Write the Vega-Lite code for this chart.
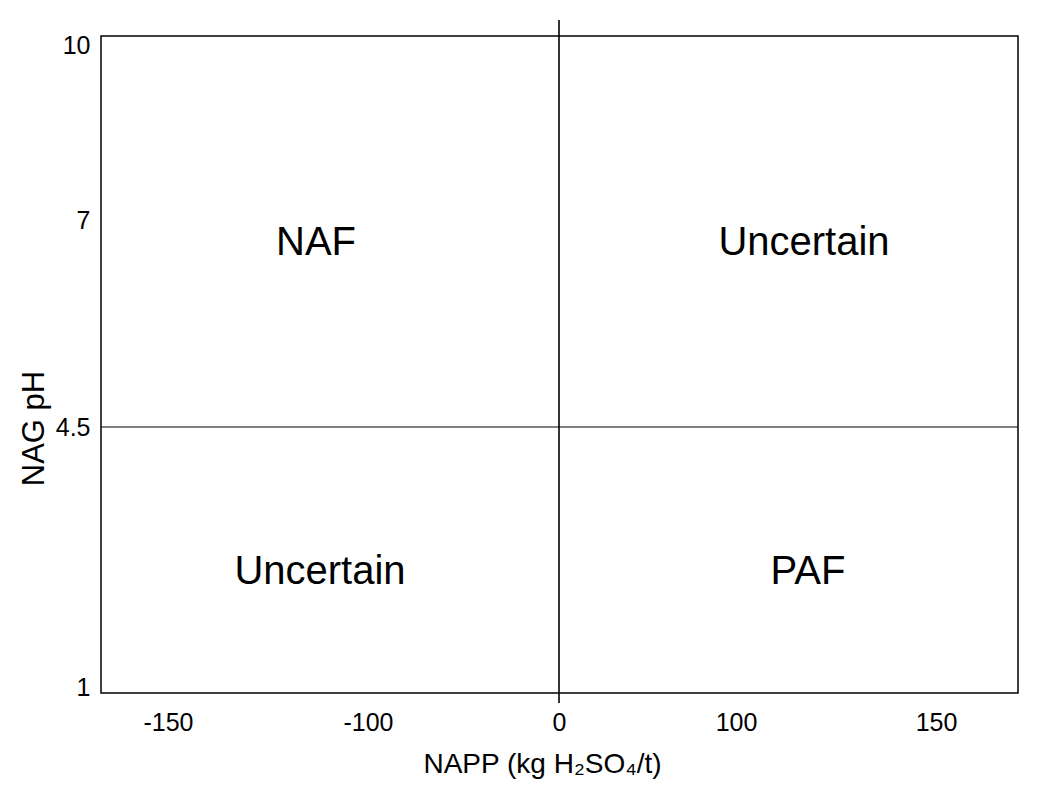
{
  "$schema": "https://vega.github.io/schema/vega-lite/v6.json",
  "width": 917,
  "height": 657,
  "autosize": {"type": "none"},
  "padding": {"left": 101, "top": 36, "right": 32, "bottom": 93},
  "background": "white",
  "config": {
    "view": {"stroke": "#000", "strokeWidth": 1.5},
    "font": "Liberation Sans"
  },
  "datasets": {
    "quadrants": [
      {"napp": -113, "ph": 6.72, "label": "NAF"},
      {"napp": 117, "ph": 6.72, "label": "Uncertain"},
      {"napp": -112, "ph": 2.55, "label": "Uncertain"},
      {"napp": 118, "ph": 2.55, "label": "PAF"}
    ],
    "ph_divider": [{"ph": 4.5}],
    "napp_divider": [{"napp": 0, "ph_low": 0.785, "ph_high": 10.43}]
  },
  "layer": [
    {
      "data": {"name": "ph_divider"},
      "mark": {"type": "rule", "color": "#000", "strokeWidth": 1.2},
      "encoding": {
        "y": {
          "field": "ph", "type": "quantitative",
          "scale": {"type": "linear", "domain": [1, 4.5, 7, 10], "range": [651, 391, 184, 9], "zero": false, "nice": false}
        }
      }
    },
    {
      "data": {"name": "napp_divider"},
      "mark": {"type": "rule", "color": "#000", "strokeWidth": 1.6, "clip": false},
      "encoding": {
        "x": {
          "field": "napp", "type": "quantitative",
          "scale": {"type": "linear", "domain": [-150, -100, 0, 100, 150], "range": [67, 267, 458, 635, 835], "zero": false, "nice": false}
        },
        "y": {
          "field": "ph_low", "type": "quantitative",
          "scale": {"type": "linear", "domain": [1, 4.5, 7, 10], "range": [651, 391, 184, 9], "zero": false, "nice": false}
        },
        "y2": {"field": "ph_high"}
      }
    },
    {
      "data": {"name": "quadrants"},
      "mark": {"type": "text", "fontSize": 40, "align": "center", "baseline": "middle", "color": "#000", "font": "Liberation Sans"},
      "encoding": {
        "x": {
          "field": "napp", "type": "quantitative",
          "scale": {"type": "linear", "domain": [-150, -100, 0, 100, 150], "range": [67, 267, 458, 635, 835], "zero": false, "nice": false},
          "axis": {
            "title": "NAPP (kg H₂SO₄/t)",
            "values": [-150, -100, 0, 100, 150],
            "labelExpr": "'' + datum.value",
            "domain": false, "ticks": false, "tickSize": 0, "grid": false,
            "labelFontSize": 25, "labelColor": "#000", "labelBaseline": "alphabetic",
            "labelPadding": 37, "labelFlush": false, "labelOverlap": false,
            "titleFontSize": 28, "titleFontWeight": "normal", "titleColor": "#000",
            "titleBaseline": "alphabetic", "titleAlign": "center", "titleX": 441, "titleY": 79
          }
        },
        "y": {
          "field": "ph", "type": "quantitative",
          "scale": {"type": "linear", "domain": [1, 4.5, 7, 10], "range": [651, 391, 184, 9], "zero": false, "nice": false},
          "axis": {
            "title": "NAG pH",
            "values": [1, 4.5, 7, 10],
            "labelExpr": "'' + datum.value",
            "domain": false, "ticks": false, "tickSize": 0, "grid": false,
            "labelFontSize": 25, "labelColor": "#000", "labelBaseline": "middle",
            "labelPadding": 11, "labelFlush": false, "labelOverlap": false,
            "titleFontSize": 31, "titleFontWeight": "normal", "titleColor": "#000",
            "titleBaseline": "alphabetic", "titleAlign": "center", "titleAngle": 270,
            "titleX": -58, "titleY": 392
          }
        },
        "text": {"field": "label", "type": "nominal"}
      }
    }
  ]
}
